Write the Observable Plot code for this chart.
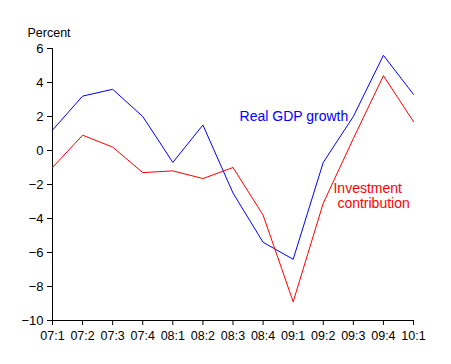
<!DOCTYPE html>
<html>
<head>
<meta charset="utf-8">
<script src="https://cdn.jsdelivr.net/npm/d3@7"></script>
<script src="https://cdn.jsdelivr.net/npm/@observablehq/plot@0.6"></script>
<style>
  html, body { margin: 0; padding: 0; background: #fff; }
  #chart svg { display: block; }
</style>
</head>
<body>
<div id="chart"></div>
<script>
const quarters = ["07:1","07:2","07:3","07:4","08:1","08:2","08:3","08:4","09:1","09:2","09:3","09:4","10:1"];
const gdpGrowth = [1.2, 3.2, 3.6, 2.0, -0.7, 1.5, -2.5, -5.4, -6.4, -0.7, 2.0, 5.6, 3.3];
const investmentContribution = [-1.0, 0.9, 0.2, -1.3, -1.2, -1.65, -1.0, -3.8, -8.9, -3.1, 0.7, 4.4, 1.7];
const yTicks = [-10, -8, -6, -4, -2, 0, 2, 4, 6];

const gdpData = quarters.map((q, i) => ({i, q, v: gdpGrowth[i]}));
const invData = quarters.map((q, i) => ({i, q, v: investmentContribution[i]}));
const font = "'Liberation Sans', Arial, sans-serif";

const chart = Plot.plot({
  width: 451,
  height: 364,
  marginLeft: 52,
  marginRight: 38,
  marginTop: 48,
  marginBottom: 44,
  style: {fontFamily: font, background: "#fff", color: "#000"},
  x: {type: "linear", domain: [0, quarters.length - 1], axis: null},
  y: {domain: [-10, 6], axis: null},
  marks: [
    Plot.axisY({ticks: yTicks, label: null, tickSize: 5, tickPadding: 4, fontSize: 13, stroke: "#000", strokeOpacity: 1, fill: "#000"}),
    Plot.axisX({ticks: d3.range(quarters.length), label: null, tickFormat: i => quarters[i], tickSize: 5, tickPadding: 6, fontSize: 12.5, stroke: "#000", strokeOpacity: 1, fill: "#000"}),
    Plot.ruleX([0], {stroke: "#000"}),
    Plot.ruleY([-10], {stroke: "#000"}),
    Plot.line(gdpData, {x: "i", y: "v", stroke: "#0000ff", strokeWidth: 1}),
    Plot.line(invData, {x: "i", y: "v", stroke: "#ff0000", strokeWidth: 1}),
    Plot.text(["Real GDP growth"], {x: 6.22, y: 1.97, text: d => d, textAnchor: "start", fill: "#0000ff", fontSize: 14}),
    Plot.text(["Investment"], {x: 9.34, y: -2.23, text: d => d, textAnchor: "start", fill: "#ff0000", fontSize: 14}),
    Plot.text(["contribution"], {x: 9.47, y: -3.11, text: d => d, textAnchor: "start", fill: "#ff0000", fontSize: 14}),
    Plot.text(["Percent"], {frameAnchor: "top-left", dx: -25, dy: -20, text: d => d, textAnchor: "start", fill: "#000", fontSize: 12.5})
  ]
});
document.getElementById("chart").appendChild(chart);
</script>
</body>
</html>
